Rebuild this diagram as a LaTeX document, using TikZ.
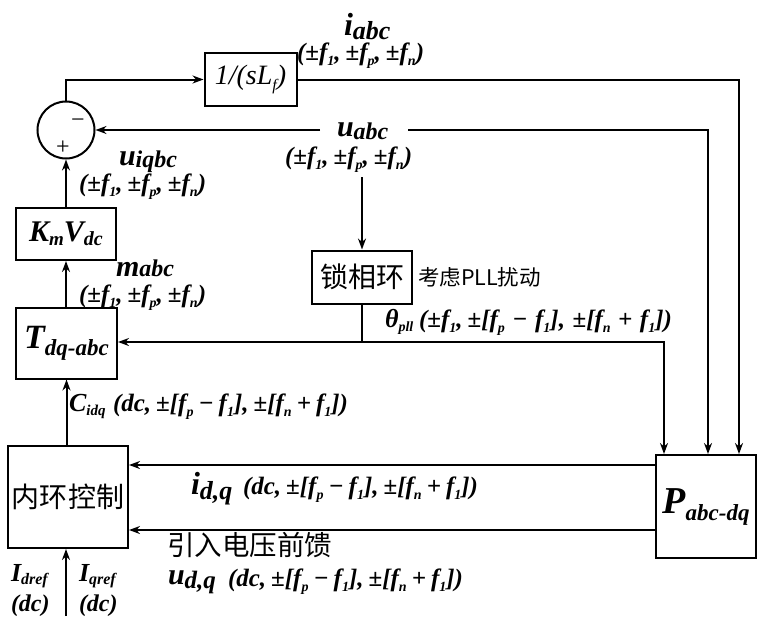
\documentclass[tikz,border=0pt]{standalone}
\usepackage{fontspec}
\setmainfont{Liberation Serif}
\newfontfamily\cjk{Noto Sans CJK SC}
\usetikzlibrary{arrows.meta}
\newcommand{\fs}[1]{\fontsize{#1}{#1}\selectfont}
\newcommand{\msym}[5]{{\fs{#1}#2}{\fs{#3}\raisebox{-#5pt}{#4}}}
\newcommand{\sbt}[1]{\raisebox{-0.22em}{\fs{14}#1}}
\newcommand{\gsp}{\hspace{0.2em}}
\newcommand{\fA}{(±\textit{f}\sbt{1},\gsp±\textit{f}\sbt{p},\gsp±\textit{f}\sbt{n})}
\newcommand{\fB}{(dc,\gsp±[\textit{f}\sbt{p}\gsp−\gsp\textit{f}\sbt{1}],\gsp±[\textit{f}\sbt{n}\gsp+\gsp\textit{f}\sbt{1}])}
\newcommand{\fC}{(±\textit{f}\sbt{1},\gsp±[\textit{f}\sbt{p}\hspace{0.3em}−\hspace{0.3em}\textit{f}\sbt{1}],\hspace{0.3em}±[\textit{f}\sbt{n}\hspace{0.3em}+\hspace{0.3em}\textit{f}\sbt{1}])}
\begin{document}
\begin{tikzpicture}[x=1pt,y=-1pt,line width=2pt,
  >={Stealth[length=11pt,width=8pt]},
  blk/.style={draw,inner sep=0pt,align=center,font=\bfseries\itshape},
  lbl/.style={inner sep=0pt,anchor=base west,font=\bfseries\itshape},
  par/.style={inner sep=0pt,anchor=base west,font=\bfseries\itshape\fs{25}},
  zh/.style={inner sep=0pt,font=\cjk}]
\useasboundingbox (0,0) rectangle (757,616);
% blocks
\node[draw,circle,minimum size=57pt,inner sep=0pt] (sum) at (66,130) {};
\node[inner sep=0pt,font=\fs{24}] (mi) at (78,123) {−};
\node[inner sep=0pt,font=\fs{24}] (pl) at (63,148) {+};
\node[blk,minimum width=92pt,minimum height=53pt,font=\itshape\fs{28}] (lf) at (250.5,79.5) {1/(\textit{s}\textit{L}\raisebox{-0.2em}{\fs{16}\textit{f}})};
\node[blk,minimum width=100pt,minimum height=52pt] (km) at (66,234) {\msym{30}{K}{19}{m}{4}\msym{30}{V}{20}{dc}{4}};
\node[blk,minimum width=101pt,minimum height=71pt] (tdq) at (66.5,343) {\msym{34}{T}{23}{dq-abc}{7}};
\node[blk,minimum width=120pt,minimum height=102pt,font=\cjk\fs{28}] (inner) at (68,497) {内环控制};
\node[blk,minimum width=100pt,minimum height=53pt,font=\cjk\fs{28}] (pll) at (362,277) {锁相环};
\node[blk,minimum width=100pt,minimum height=103pt] (pab) at (706,506.5) {\msym{38}{P}{23}{abc-dq}{7}};
% coordinates
\coordinate (c1) at (66,79.5);
\coordinate (c2) at (739,79.5);
\coordinate (ua) at (708,130);
\coordinate (ul) at (320,130);
\coordinate (ur) at (408,130);
\coordinate (ud) at (362,177);
\coordinate (th) at (362,342);
\coordinate (tr) at (664,342);
\coordinate (bt) at (66,616);
% connectors
\draw[->] (sum.north) -- (c1) -- (lf.west);
\draw[->] (lf.east) -- (c2) -- (pab.north -| c2);
\draw[->] (ul) -- (sum.east);
\draw[->] (ur) -- (ua) -- (pab.north -| ua);
\draw[->] (ud) -- (pll.north);
\draw (pll.south) -- (th);
\draw[->] (th) -- (tdq.east |- th);
\draw[->] (th) -- (tr) -- (pab.north -| tr);
\draw[->] (km.north) -- (sum.south);
\draw[->] (tdq.north -| km.north) -- (km.south);
\draw[->] (inner.north -| tdq.south) -- (tdq.south);
\draw[->] (pab.west |- 0,465) -- (inner.east |- 0,465);
\draw[->] (pab.west |- 0,530) -- (inner.east |- 0,530);
\draw[->] (bt) -- (inner.south -| bt);
% labels
\node[lbl] (l1) at (343,35) {\msym{32}{i}{26}{abc}{4}};
\node[par] (l1p) at (296,60) {\fA};
\node[lbl] (l2) at (336,136) {\msym{30}{u}{24}{abc}{3}};
\node[par] (l2p) at (284,164) {\fA};
\node[lbl] (l3) at (118,165) {\msym{30}{u}{24}{iqbc}{2}};
\node[par] (l3p) at (78,191) {\fA};
\node[lbl] (l4) at (115,276) {\msym{30}{m}{24}{abc}{0}};
\node[par] (l4p) at (78,302) {\fA};
\node[zh,anchor=base west,font=\cjk\fs{21.5}] (l5) at (417,285) {考虑PLL扰动};
\node[lbl] (l6) at (384,327) {\msym{26}{θ}{14}{pll}{4}};
\node[par] (l6p) at (418,327) {\fC};
\node[lbl] (l7) at (68,411) {\msym{26}{C}{15}{idq}{4}};
\node[par] (l7p) at (112,411) {\fB};
\node[lbl] (l8) at (190,494) {\msym{32}{i}{26}{d,q}{5}};
\node[par] (l8p) at (242,494) {\fB};
\node[zh,anchor=base west,font=\cjk\fs{27.5}] (l9) at (166,555) {引入电压前馈};
\node[lbl] (l10) at (167,584) {\msym{30}{u}{25}{d,q}{4}};
\node[par] (l10p) at (227,586) {\fB};
\node[lbl] (l11) at (10,581) {\msym{26}{I}{16}{dref}{3}};
\node[lbl] (l12) at (78,581) {\msym{26}{I}{16}{qref}{3}};
\node[lbl,font=\bfseries\itshape\fs{24}] (l13) at (10,611) {(dc)};
\node[lbl,font=\bfseries\itshape\fs{24}] (l14) at (78,611) {(dc)};
\end{tikzpicture}
\end{document}
